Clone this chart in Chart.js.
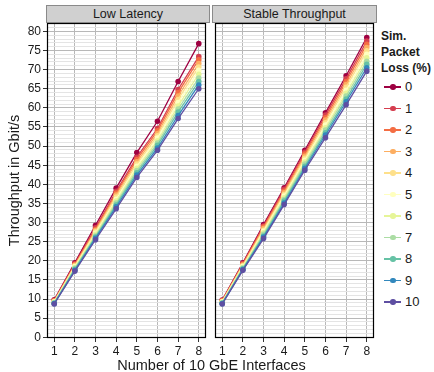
<!DOCTYPE html>
<html>
<head>
<meta charset="utf-8">
<script src="https://cdn.jsdelivr.net/npm/chart.js@4.4.4/dist/chart.umd.min.js"></script>
<style>
  body { margin: 0; width: 434px; height: 372px; position: relative; overflow: hidden; background: #fff;
         font-family: "Liberation Sans", Arial, sans-serif; color: #1a1a1a; }
  canvas { position: absolute; top: 0; }
  .strip { position: absolute; top: 5px; height: 18px; box-sizing: border-box; background: #d0d0d0;
           border: 1px solid #8a8a8a; text-align: center; font-size: 12.5px; line-height: 16px; }
  #xtitle { position: absolute; top: 357px; left: 47px; width: 329px; text-align: center; font-size: 14.5px; }
  #legend { position: absolute; left: 381px; top: 28px; white-space: nowrap; }
  #legend .title { font-weight: bold; font-size: 12px; line-height: 16px; margin-bottom: 1px; }
  #legend .item { position: relative; height: 21.5px; font-size: 13px; }
  #legend .line { position: absolute; left: 3px; top: 9px; width: 17px; height: 1.5px; }
  #legend .dot { position: absolute; left: 9px; top: 7px; width: 5.5px; height: 5.5px; border-radius: 50%; }
  #legend .lab { position: absolute; left: 24px; top: 2px; }
</style>
</head>
<body>
<canvas id="left" width="210" height="372" style="left:0"></canvas>
<canvas id="right" width="167" height="372" style="left:211px"></canvas>
<div class="strip" style="left:46px;width:164px">Low Latency</div>
<div class="strip" style="left:212px;width:165px">Stable Throughput</div>
<div id="xtitle">Number of 10 GbE Interfaces</div>
<div id="legend"><div class="title">Sim.<br>Packet<br>Loss (%)</div></div>
<script>
const interfaces = [1, 2, 3, 4, 5, 6, 7, 8];
const lossLevels = [0, 1, 2, 3, 4, 5, 6, 7, 8, 9, 10];
const lossColors = ["#9E0142", "#D53E4F", "#F46D43", "#FDAE61", "#FEE08B", "#FFFFBF",
                    "#E6F598", "#ABDDA4", "#66C2A5", "#3288BD", "#5E4FA2"];

// one row per loss level, one value per interface count
const lowLatency = [
  [9.8, 19.5, 29.3, 39.0, 48.3, 56.5, 66.9, 76.8],
  [9.6, 19.2, 28.6, 38.2, 47.1, 54.6, 64.8, 73.4],
  [9.5, 19.0, 28.2, 37.7, 46.5, 54.0, 64.0, 72.6],
  [9.4, 18.8, 27.9, 37.2, 45.9, 53.3, 63.1, 71.6],
  [9.3, 18.6, 27.6, 36.7, 45.3, 52.7, 62.2, 70.7],
  [9.2, 18.4, 27.2, 36.1, 44.7, 52.1, 61.4, 69.8],
  [9.1, 18.2, 26.9, 35.6, 44.2, 51.4, 60.5, 68.8],
  [9.0, 18.0, 26.5, 35.1, 43.6, 50.8, 59.7, 67.8],
  [8.9, 17.8, 26.2, 34.6, 43.0, 50.2, 58.9, 66.9],
  [8.8, 17.5, 25.9, 34.1, 42.4, 49.5, 58.0, 66.0],
  [8.7, 17.3, 25.5, 33.6, 41.8, 48.9, 57.2, 65.0],
];
const stableThroughput = [
  [9.7, 19.5, 29.5, 39.1, 48.9, 58.7, 68.4, 78.4],
  [9.6, 19.3, 29.1, 38.7, 48.4, 58.1, 67.6, 77.5],
  [9.5, 19.1, 28.8, 38.2, 47.9, 57.4, 66.9, 76.6],
  [9.4, 18.9, 28.4, 37.8, 47.3, 56.8, 66.1, 75.8],
  [9.3, 18.7, 28.0, 37.3, 46.8, 56.1, 65.4, 74.9],
  [9.2, 18.5, 27.7, 36.9, 46.3, 55.5, 64.6, 74.0],
  [9.1, 18.3, 27.3, 36.5, 45.8, 54.8, 63.8, 73.1],
  [9.0, 18.1, 26.9, 36.0, 45.3, 54.2, 63.1, 72.2],
  [8.9, 17.9, 26.5, 35.6, 44.7, 53.5, 62.3, 71.4],
  [8.8, 17.7, 26.2, 35.1, 44.2, 52.9, 61.6, 70.5],
  [8.7, 17.5, 25.8, 34.7, 43.7, 52.2, 60.8, 69.6],
];

const yTicks = Array.from({ length: 83 }, (_, i) => i);

const panelBorder = {
  id: "panelBorder",
  afterDraw(chart) {
    const { ctx, chartArea: a } = chart;
    ctx.save();
    ctx.strokeStyle = "#000";
    ctx.lineWidth = 1.2;
    ctx.strokeRect(a.left + 0.5, a.top + 0.5, a.width - 1, a.height - 1);
    ctx.restore();
  },
};

function makePanel(id, rows, showY) {
  const datasets = rows.map((row, i) => ({
    label: String(lossLevels[i]),
    data: row.map((v, j) => ({ x: interfaces[j], y: v })),
    borderColor: lossColors[i],
    backgroundColor: lossColors[i],
    borderWidth: 1.3,
    pointRadius: 2.8,
    pointBorderWidth: 0,
    order: -i,
  }));

  return new Chart(document.getElementById(id), {
    type: "line",
    data: { datasets },
    plugins: [panelBorder],
    options: {
      responsive: false,
      animation: false,
      layout: { padding: { top: 23, right: showY ? 1 : 2, bottom: 14, left: showY ? 0 : 2 } },
      plugins: { legend: { display: false }, tooltip: { enabled: false } },
      scales: {
        x: {
          type: "linear",
          min: 0.65,
          max: 8.35,
          afterBuildTicks: (axis) => { axis.ticks = interfaces.map((v) => ({ value: v })); },
          afterFit: (axis) => { axis.height = 20; },
          border: { display: false },
          grid: { color: "#b8b8b8", tickColor: "#333", tickLength: 4 },
          ticks: { color: "#1a1a1a", font: { size: 12, family: "Liberation Sans" }, padding: 2, maxRotation: 0 },
        },
        y: {
          min: -0.2,
          max: 82.2,
          afterBuildTicks: (axis) => { axis.ticks = yTicks.map((v) => ({ value: v })); },
          afterFit: (axis) => { axis.width = showY ? 47 : 0; },
          border: { display: false },
          grid: {
            color: (c) => (c.tick && c.tick.value % 5 === 0 ? "#b8b8b8" : "#e4e4e4"),
            tickColor: (c) => (showY && c.tick && c.tick.value % 5 === 0 ? "#333" : "rgba(0,0,0,0)"),
            tickLength: 4,
            drawTicks: showY,
          },
          ticks: {
            display: showY,
            autoSkip: false,
            color: "#1a1a1a",
            font: { size: 12, family: "Liberation Sans" },
            padding: 2,
            callback: (v) => (v % 5 === 0 && v <= 80 ? v : ""),
          },
          title: {
            display: showY,
            text: "Throughput in Gbit/s",
            color: "#1a1a1a",
            font: { size: 14.5, family: "Liberation Sans" },
            padding: { top: 6, bottom: 0 },
          },
        },
      },
    },
  });
}

makePanel("left", lowLatency, true);
makePanel("right", stableThroughput, false);

const legend = document.getElementById("legend");
lossLevels.forEach((lvl, i) => {
  const item = document.createElement("div");
  item.className = "item";
  item.innerHTML =
    `<div class="line" style="background:${lossColors[i]}"></div>` +
    `<div class="dot" style="background:${lossColors[i]}"></div>` +
    `<div class="lab">${lvl}</div>`;
  legend.appendChild(item);
});
</script>
</body>
</html>
